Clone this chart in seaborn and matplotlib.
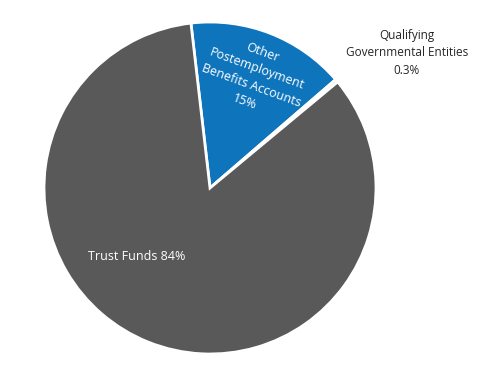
import matplotlib
matplotlib.use("Agg")
import matplotlib.pyplot as plt
import seaborn as sns

sns.set_theme(style="white")
plt.rcParams['font.family'] = ['Open Sans', 'DejaVu Sans']

categories = ["Other Postemployment Benefits Accounts", "Qualifying Governmental Entities", "Trust Funds"]
values = [15.5, 0.3, 84.2]
labels = ["Other\nPostemployment\nBenefits Accounts\n15%", "Qualifying\nGovernmental Entities\n0.3%", "Trust Funds 84%"]
colors = ["#0e74bb", "#b0b0b0", "#595959"]

fig = plt.figure(figsize=(5, 3.75), dpi=100)
ax = fig.add_axes([(210 - 166) / 500, 21 / 375, 332 / 500, 332 / 375])
wedges, _ = ax.pie(values, colors=colors, startangle=96.6, counterclock=False,
                   radius=1, wedgeprops=dict(edgecolor="white", linewidth=2))
ax.set_xlim(-1, 1)
ax.set_ylim(-1, 1)
ax.set_aspect("equal")
ax.axis("off")

# labels
ax.text(0.265, 0.665, labels[0], color="white", fontsize=9, ha="center", va="center",
        rotation=-20, linespacing=1.45, rotation_mode="anchor")
ax.text(-0.44, -0.41, labels[2], color="white", fontsize=9, ha="center", va="center")
fig.text(407 / 500, 1 - 53 / 375, labels[1], color="#262626", fontsize=8.5, ha="center",
         va="center", linespacing=1.45)

fig.savefig("out.png", dpi=100)
